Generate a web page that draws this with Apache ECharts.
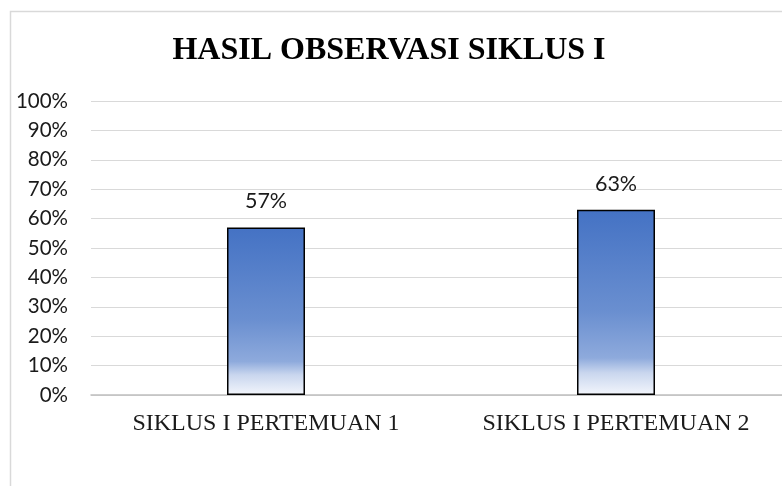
<!DOCTYPE html>
<html>
<head>
<meta charset="utf-8">
<script src="https://cdn.jsdelivr.net/npm/echarts@6/dist/echarts.min.js"></script>
<style>
  html, body { margin: 0; padding: 0; background: #fff; }
  #chart { width: 782px; height: 486px; }
</style>
</head>
<body>
<div id="chart"></div>
<script>
const title = 'HASIL OBSERVASI SIKLUS I'
const categories = ['SIKLUS I PERTEMUAN 1', 'SIKLUS I PERTEMUAN 2']
const values = [57, 63]
const yTicks = [0, 10, 20, 30, 40, 50, 60, 70, 80, 90, 100]

const chart = echarts.init(document.getElementById('chart'))

// gradien batang: biru di atas, memudar ke putih di bawah
const barGradient = new echarts.graphic.LinearGradient(0, 0, 0, 1, [
  { offset: 0, color: '#4472c4' },
  { offset: 0.55, color: '#6a8fd0' },
  { offset: 0.8, color: '#8eaadc' },
  { offset: 0.88, color: '#c9d6ee' },
  { offset: 1, color: '#f3f6fc' }
])

const option = {
  animation: false,
  title: {
    text: title,
    left: 384,
    textAlign: 'center',
    top: 30,
    textStyle: {
      fontFamily: 'Liberation Serif',
      fontWeight: 'bold',
      fontSize: 32,
      color: '#000'
    }
  },
  graphic: [
    {
      type: 'rect',
      shape: { x: 10.5, y: 11.5, width: 800, height: 500 },
      style: { fill: 'none', stroke: '#d9d9d9', lineWidth: 1.5 },
      silent: true
    }
  ],
  grid: { left: 91, top: 101, width: 700, height: 294, outerBoundsMode: 'none', containLabel: false },
  xAxis: {
    type: 'category',
    data: categories,
    axisLine: { lineStyle: { color: '#bfbfbf', width: 1.5 } },
    axisTick: { show: false },
    axisLabel: {
      fontFamily: 'Liberation Serif',
      fontSize: 24,
      color: '#1a1a1a',
      margin: 17
    }
  },
  yAxis: {
    type: 'value',
    min: 0,
    max: 100,
    interval: 10,
    axisLine: { show: false },
    axisTick: { show: false },
    splitLine: { lineStyle: { color: '#d9d9d9', width: 1 } },
    axisLabel: {
      fontFamily: 'Lato',
      fontSize: 20.5,
      color: '#1a1a1a',
      margin: 23,
      formatter: (v) => yTicks.includes(v) ? v + '%' : ''
    }
  },
  series: [
    {
      type: 'bar',
      data: values,
      barWidth: 78,
      itemStyle: {
        color: barGradient,
        borderColor: '#000',
        borderWidth: 1.5
      },
      label: {
        show: true,
        position: 'top',
        distance: 15,
        formatter: '{c}%',
        fontFamily: 'Lato',
        fontSize: 21.5,
        color: '#1a1a1a'
      }
    }
  ]
}

chart.setOption(option)
</script>
</body>
</html>
